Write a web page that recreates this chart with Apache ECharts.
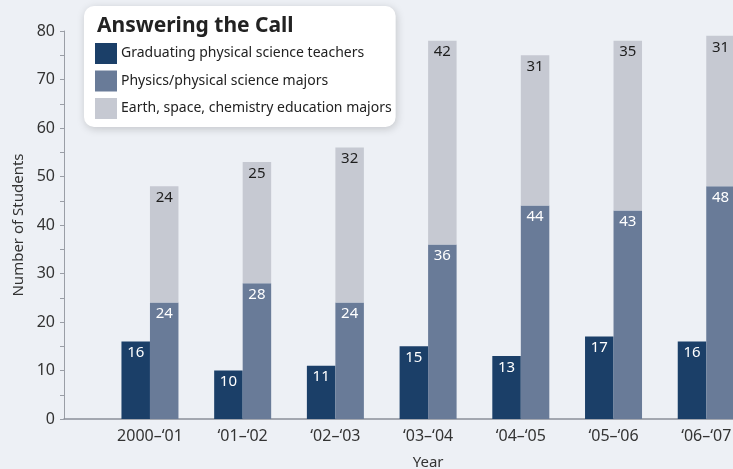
<!DOCTYPE html>
<html>
<head>
<meta charset="utf-8">
<script src="https://cdn.jsdelivr.net/npm/echarts@6/dist/echarts.min.js"></script>
<style>
html,body{margin:0;padding:0;background:#edf0f5;}
#chart{width:733px;height:469px;}
</style>
</head>
<body>
<div id="chart"></div>
<script>
const categories = ['2000\u2013\u201801', '\u201801\u2013\u201802', '\u201802\u2013\u201803', '\u201803\u2013\u201804', '\u201804\u2013\u201805', '\u201805\u2013\u201806', '\u201806\u2013\u201807'];
const teachers = [16, 10, 11, 15, 13, 17, 16];
const physicsMajors = [24, 28, 24, 36, 44, 43, 48];
const earthSpaceChem = [24, 25, 32, 42, 31, 35, 31];
const yTicks = [0, 10, 20, 30, 40, 50, 60, 70, 80];

const chart = echarts.init(document.getElementById('chart'));
const font = '"Noto Sans", sans-serif';
const labelBase = {show: true, position: 'insideTop', distance: 4, fontFamily: font, fontSize: 15};

chart.setOption({
  backgroundColor: '#edf0f5',
  animation: false,
  title: {
    text: 'Answering the Call',
    left: 92, top: 11,
    textStyle: {fontFamily: font, fontSize: 21, fontWeight: 'bold', color: '#222'},
    z: 20
  },
  legend: {
    orient: 'vertical',
    left: 84, top: 6,
    padding: [37, 4, 8, 11],
    itemWidth: 22, itemHeight: 21, itemGap: 6.5,
    backgroundColor: '#ffffff',
    borderRadius: 10,
    shadowColor: 'rgba(0,0,0,0.18)', shadowBlur: 8, shadowOffsetX: 1, shadowOffsetY: 2,
    textStyle: {fontFamily: font, fontSize: 14, color: '#222', padding: [0,0,0,-1]},
    icon: 'rect',
    data: ['Graduating physical science teachers', 'Physics/physical science majors', 'Earth, space, chemistry education majors'],
    z: 10
  },
  grid: [
    {left: 103.6, right: -19.6, top: 31, bottom: 50, containLabel: false, outerBoundsMode: 'none'},
    {left: 64, right: 0, top: 31, bottom: 50, containLabel: false, outerBoundsMode: 'none'}
  ],
  xAxis: [
    {
      type: 'category', gridIndex: 0, data: categories,
      axisLine: {show: false},
      axisTick: {show: false},
      axisLabel: {fontFamily: font, fontSize: 16, color: '#333', margin: 9},
      name: 'Year', nameLocation: 'middle', nameGap: 36,
      nameTextStyle: {fontFamily: font, fontSize: 15, color: '#333'}
    },
    {
      type: 'value', gridIndex: 1, min: 0, max: 1,
      axisLine: {show: true, lineStyle: {color: '#8a8f99', width: 1.5}},
      axisTick: {show: false}, axisLabel: {show: false}, splitLine: {show: false}
    }
  ],
  yAxis: [
    {
      type: 'value', gridIndex: 0, min: yTicks[0], max: yTicks[yTicks.length-1], interval: 10,
      offset: 39.6,
      axisLine: {show: true, lineStyle: {color: '#9a9ea6', width: 1}},
      axisTick: {show: true, length: 4, lineStyle: {color: '#9a9ea6'}},
      minorTick: {show: true, splitNumber: 2, length: 4, lineStyle: {color: '#9a9ea6'}},
      splitLine: {show: false},
      axisLabel: {fontFamily: font, fontSize: 16, color: '#333', margin: 9},
      name: 'Number of Students', nameLocation: 'middle', nameGap: 37, nameRotate: 90,
      nameTextStyle: {fontFamily: font, fontSize: 15, color: '#333'}
    },
    {
      type: 'value', gridIndex: 1, min: 0, max: 1, show: false
    }
  ],
  series: [
    {
      name: 'Graduating physical science teachers', type: 'bar',
      xAxisIndex: 0, yAxisIndex: 0,
      data: teachers, barWidth: 28.5, barGap: '0%',
      itemStyle: {color: '#1b3f68'},
      label: Object.assign({}, labelBase, {color: '#ffffff'})
    },
    {
      name: 'Physics/physical science majors', type: 'bar', stack: 'majors',
      xAxisIndex: 0, yAxisIndex: 0,
      data: physicsMajors, barWidth: 28.5, barGap: '0%',
      itemStyle: {color: '#697b98'},
      label: Object.assign({}, labelBase, {color: '#ffffff'})
    },
    {
      name: 'Earth, space, chemistry education majors', type: 'bar', stack: 'majors',
      xAxisIndex: 0, yAxisIndex: 0,
      data: earthSpaceChem, barWidth: 28.5, barGap: '0%',
      itemStyle: {color: '#c6c9d2'},
      label: Object.assign({}, labelBase, {color: '#1e1e1e'})
    }
  ]
});
</script>
</body>
</html>
